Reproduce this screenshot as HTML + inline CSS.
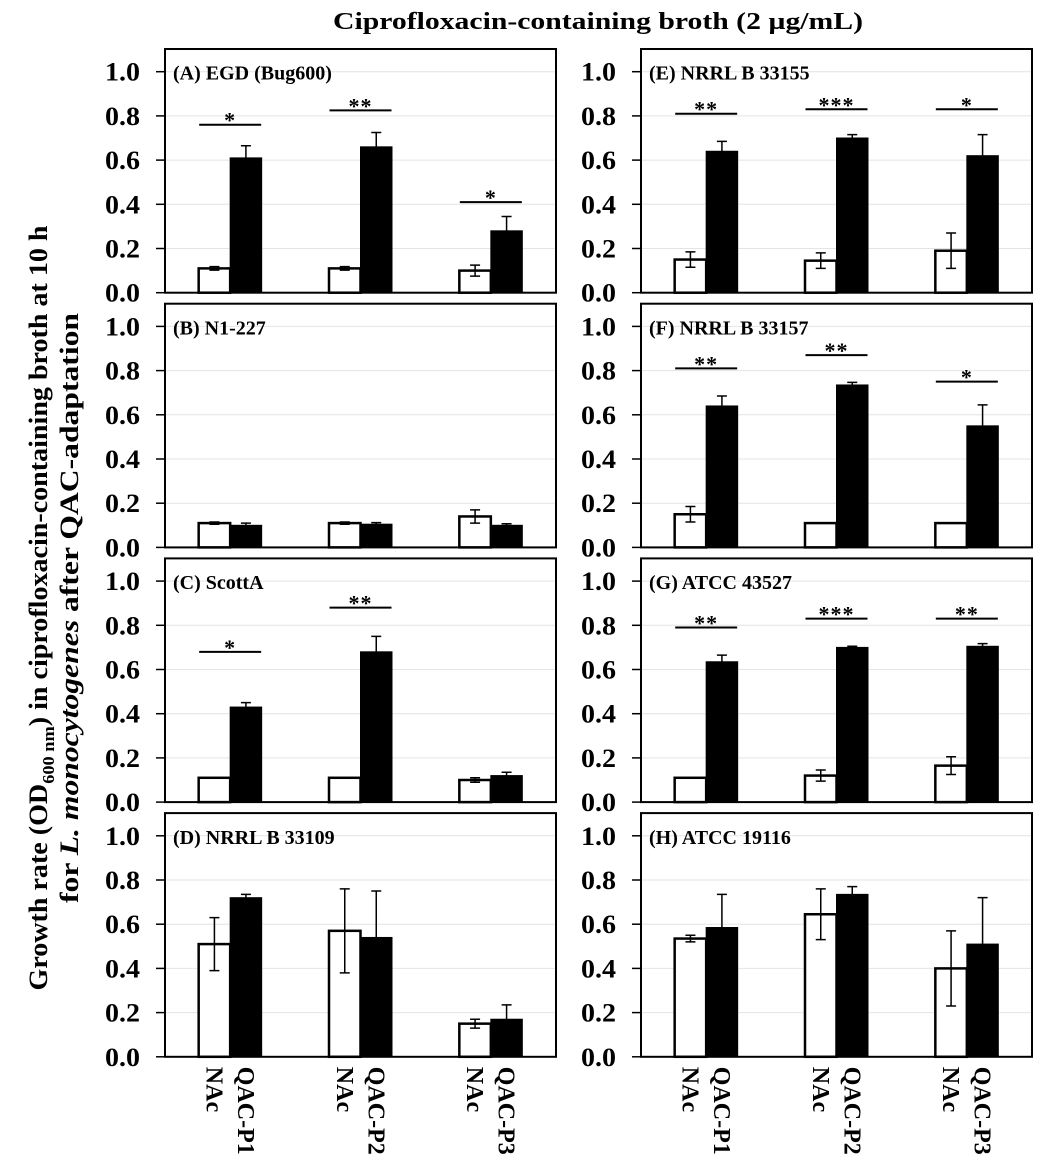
<!DOCTYPE html>
<html><head><meta charset="utf-8">
<style>
html,body{margin:0;padding:0;background:#fff;}
svg{display:block;font-family:"Liberation Serif",serif;font-weight:bold;}
</style></head>
<body>
<svg id="chart" width="1042" height="1164" viewBox="0 0 1042 1164" xmlns="http://www.w3.org/2000/svg">
<text x="598" y="29" text-anchor="middle" font-size="24" textLength="530" lengthAdjust="spacingAndGlyphs">Ciprofloxacin-containing broth (2 µg/mL)</text>
<g transform="translate(47,608) rotate(-90)">
<text x="0" y="0" text-anchor="middle" font-size="26" textLength="765" lengthAdjust="spacingAndGlyphs">Growth rate (OD<tspan font-size="17" dy="7">600 nm</tspan><tspan dy="-7">) in ciprofloxacin-containing broth at 10 h</tspan></text>
<text x="0" y="31" text-anchor="middle" font-size="26" textLength="590" lengthAdjust="spacingAndGlyphs">for <tspan font-style="italic">L. monocytogenes</tspan>  after QAC-adaptation</text>
</g>
</svg>
<script>
const panelTitles = ["(A) EGD (Bug600)","(B) N1-227","(C) ScottA","(D) NRRL B 33109","(E) NRRL B 33155","(F) NRRL B 33157","(G) ATCC 43527","(H) ATCC 19116"];
const groups = ["P1","P2","P3"];
const nacValues = [[0.11,0.11,0.10],[0.11,0.11,0.14],[0.11,0.11,0.10],[0.51,0.57,0.15],[0.15,0.145,0.19],[0.15,0.11,0.11],[0.11,0.12,0.165],[0.535,0.645,0.40]];
const nacErrors = [[0.008,0.008,0.025],[0.005,0.005,0.03],[0,0,0.01],[0.12,0.19,0.02],[0.035,0.035,0.08],[0.035,0,0],[0,0.025,0.04],[0.015,0.115,0.17]];
const qacValues = [[0.61,0.66,0.28],[0.10,0.105,0.10],[0.43,0.68,0.12],[0.72,0.54,0.17],[0.64,0.70,0.62],[0.64,0.735,0.55],[0.635,0.70,0.705],[0.585,0.735,0.51]];
const qacErrors = [[0.055,0.065,0.065],[0.01,0.007,0.007],[0.02,0.07,0.015],[0.015,0.21,0.065],[0.045,0.015,0.095],[0.045,0.012,0.095],[0.03,0.005,0.012],[0.15,0.035,0.21]];
const sigLabels = [["*","**","*"],["","",""],["*","**",""],["","",""],["**","***","*"],["**","**","*"],["**","***","**"],["","",""]];
const sigLevels = [[0.76,0.825,0.41],[0,0,0],[0.68,0.88,0],[0,0,0],[0.81,0.83,0.83],[0.81,0.87,0.75],[0.79,0.83,0.83],[0,0,0]];
const yTicks = [0,0.2,0.4,0.6,0.8,1.0];
const tickLabels = ["0.0","0.2","0.4","0.6","0.8","1.0"];

const NS="http://www.w3.org/2000/svg";
const svg=document.getElementById('chart');
function mk(tag,attrs,parent){const e=document.createElementNS(NS,tag);for(const k in attrs)e.setAttribute(k,attrs[k]);(parent||svg).appendChild(e);return e;}
const colX=[165,641], W=391, pitch=254.7, top0=49, zero0=292.7, scale=221;
for(let p=0;p<8;p++){
  const col=Math.floor(p/4), row=p%4;
  const x0=colX[col], zy=zero0+row*pitch, ty=top0+row*pitch;
  const y=v=>zy-v*scale;
  const xc=i=>x0+W/6+i*W/3;
  const g=mk('g',{});
  
  
  yTicks.forEach((t,i)=>{
    if(t>0){const gl=mk('line',{x1:x0,x2:x0+W,y1:y(t),y2:y(t),stroke:'#e4e4e4','stroke-width':1},g);
      }
    const tk=mk('line',{x1:x0-9,x2:x0,y1:y(t),y2:y(t),stroke:'#000','stroke-width':1.5},g);
    
    const tl=mk('text',{x:x0-25,y:y(t)+9,'text-anchor':'end','font-size':26,textLength:35,lengthAdjust:'spacingAndGlyphs'},g);
    tl.textContent=tickLabels[i];
    
  });
  const bw=31.5;
  for(let i=0;i<3;i++){
    const c=xc(i);
    const nb=mk('rect',{x:c-bw,y:y(nacValues[p][i]),width:bw,height:nacValues[p][i]*scale,fill:'#fff',stroke:'#000','stroke-width':2.5},g);
    
    const qb=mk('rect',{x:c,y:y(qacValues[p][i]),width:bw,height:qacValues[p][i]*scale,fill:'#000',stroke:'#000','stroke-width':1},g);
    
    [[c-bw/2,nacValues[p][i],nacErrors[p][i]],[c+bw/2,qacValues[p][i],qacErrors[p][i]]].forEach(([cx,v,e])=>{
      if(e<=0.001)return;
      const eg=mk('path',{d:`M${cx},${y(v+e)}V${y(v-e)}M${cx-5},${y(v+e)}H${cx+5}M${cx-5},${y(v-e)}H${cx+5}`,stroke:'#000','stroke-width':1.5,fill:'none'},g);
      
    });
    if(sigLabels[p][i]){
      const sl=mk('line',{x1:c-31,x2:c+31,y1:y(sigLevels[p][i]),y2:y(sigLevels[p][i]),stroke:'#000','stroke-width':2},g);
      
      const st=mk('text',{x:c,y:y(sigLevels[p][i])+3,'text-anchor':'middle','font-size':22,'letter-spacing':1},g);
      st.textContent=sigLabels[p][i];
      
    }
    if(row===3){
      [['NAc',c-bw/2],['QAC-'+groups[i],c+bw/2]].forEach(([t,cx])=>{
        const xl=mk('text',{x:0,y:0,transform:`translate(${cx-8},${zy+10}) rotate(90)`,'font-size':24},g);
        xl.textContent=t;
        
      });
    }
  }
  const fr=mk('rect',{x:x0,y:ty,width:W,height:zy-ty,fill:'none',stroke:'#000','stroke-width':2},g);
  
  const pt=mk('text',{x:x0+8,y:y(1)+8,'font-size':20},g);
  pt.textContent=panelTitles[p];
  
}
</script>
</body></html>
